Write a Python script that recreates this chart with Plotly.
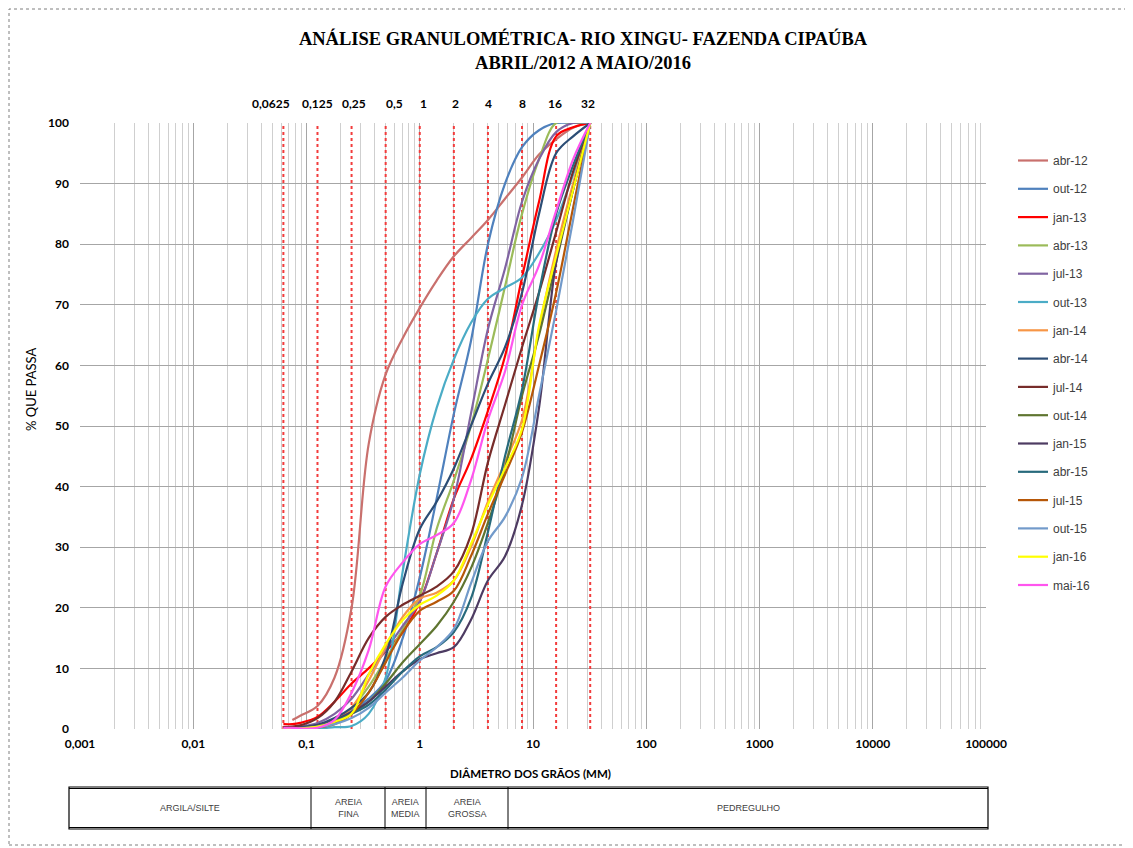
import math
import plotly.graph_objects as go

# ---------------- data ----------------
SIZES = [0.0625, 0.075, 0.088, 0.125, 0.177, 0.25, 0.354, 0.5, 0.707, 1, 1.41, 2, 2.83,
         4, 5.66, 8, 11.3, 16, 22.6, 32]

SERIES_NAMES = ["abr-12", "out-12", "jan-13", "abr-13", "jul-13", "out-13", "jan-14", "abr-14",
                "jul-14", "out-14", "jan-15", "abr-15", "jul-15", "out-15", "jan-16", "mai-16"]

abr_12 = [None, 1.5, 2.2, 3.8, 8.5, 20, 47, 58.5, 64.5, 69.5, 74, 78, 81, 84, 87.5, 91, 94.8, 97.3, 99.2, 100]
out_12 = [0.2, 0.2, 0.3, 0.5, 1.5, 3, 5, 8, 15, 25, 38, 52, 64, 80, 90, 96, 98.8, 100, 100, 100]
jan_13 = [0.8, 0.8, 1.0, 2.0, 4.5, 7.5, 10, 12.8, 16, 21, 29, 38, 44.5, 52.5, 61.5, 74.5, 87, 97.8, 99.3, 100]
abr_13 = [0.1, 0.1, 0.2, 0.6, 1.5, 3.5, 7, 11.5, 16.5, 22, 33, 41, 50, 61, 73, 85, 94, 100, 100, 100]
jul_13 = [0.2, 0.3, 0.4, 1, 2.5, 5, 9, 13, 17, 21, 29, 38, 52, 66, 76, 87, 94, 98.5, 100, 100]
out_13 = [0, 0, 0, 0.1, 0.3, 0.5, 2.5, 8.5, 26, 42, 53, 61, 67, 71, 72.8, 74.5, 78.5, 84, 91.5, 100]
jan_14 = [0, 0, 0.1, 0.4, 1.2, 3.5, 8, 13.5, 18.5, 21.5, 22.5, 24.5, 30, 37.5, 44, 51, 66, 79, 90, 100]
abr_14 = [0.2, 0.2, 0.3, 0.7, 1.8, 3.5, 6, 12, 24, 33, 37.5, 43, 50, 57, 63, 72, 85, 95, 97.8, 100]
jul_14 = [0.3, 0.4, 0.6, 1.8, 4.5, 9.5, 15, 18.5, 20.5, 22, 23.5, 26, 32, 44, 53.5, 63, 72, 82, 92, 100]
out_14 = [0, 0, 0.1, 0.4, 1, 2.5, 4.5, 7.5, 11, 14, 17, 21, 26.5, 34, 43, 55, 65, 77, 89, 100]
jan_15 = [0.1, 0.1, 0.2, 0.6, 1.5, 2.8, 4.5, 7, 9.5, 11.5, 12.5, 13.5, 18, 24.5, 28.5, 37, 53, 77, 89, 100]
abr_15 = [0.1, 0.1, 0.2, 0.5, 1.3, 2.5, 4, 6.5, 9.5, 12, 13.5, 16, 21.5, 32.5, 45, 56, 72, 85, 93, 100]
jul_15 = [0, 0, 0.1, 0.3, 0.8, 2.5, 6, 11, 16, 19.5, 21, 22.8, 28.5, 35.5, 42, 49, 60, 72, 86, 100]
out_15 = [0, 0, 0.1, 0.3, 0.8, 1.8, 3.5, 6, 8.5, 11.3, 13.5, 16.5, 24, 31, 35, 41.5, 55, 69, 84, 100]
jan_16 = [0, 0, 0.1, 0.4, 1.2, 2.5, 9, 14, 18, 20.5, 22, 24.5, 30.5, 37, 43, 49.5, 66.5, 78, 89, 100]
mai_16 = [0.2, 0.2, 0.1, 0.2, 1.5, 6, 13, 23.5, 27.5, 30.5, 32, 34, 41, 51, 59, 70, 76.5, 85.5, 94, 100]

SERIES_VALUES = [abr_12, out_12, jan_13, abr_13, jul_13, out_13, jan_14, abr_14,
                 jul_14, out_14, jan_15, abr_15, jul_15, out_15, jan_16, mai_16]

SERIES_COLORS = ["#C9706D", "#4F81BD", "#FF0000", "#9BBB59", "#8064A2", "#4BACC6", "#F79646", "#2C4D75",
                 "#772C2A", "#5F7530", "#4D3B62", "#276A7C", "#B65708", "#729ACA", "#FFFF00", "#FF55EE"]

WENTWORTH_SIZES = [0.0625, 0.125, 0.25, 0.5, 1, 2, 4, 8, 16, 32]
WENTWORTH_LABELS = ["0,0625", "0,125", "0,25", "0,5", "1", "2", "4", "8", "16", "32"]
# horizontal nudge (px) of each top label relative to its line
LABEL_SHIFT = [-12, 0, 2.5, 9, 4, 2, 1, 0.5, -1.5, -2]

X_TICKS = [0.001, 0.01, 0.1, 1, 10, 100, 1000, 10000, 100000]
X_TICK_LABELS = ["0,001", "0,01", "0,1", "1", "10", "100", "1000", "10000", "100000"]

CLASS_LABELS = ["ARGILA/SILTE", "AREIA<br>FINA", "AREIA<br>MEDIA", "AREIA<br>GROSSA", "PEDREGULHO"]

# ---------------- geometry (page pixels; the page body has an 8px margin) ----------------
OFF = 8
W, H = 1133 - OFF, 848 - OFF
L, R, T, B = 80, 986, 123, 729   # plot area in page pixels


def px(xp):
    return (xp - L) / (R - L)


def py(yp):
    return (B - yp) / (B - T)


fig = go.Figure()

# Wentworth boundary lines (red dotted)
for s in WENTWORTH_SIZES:
    fig.add_trace(go.Scatter(x=[s, s], y=[0, 100], mode="lines",
                             line=dict(color="#F23C3C", width=2, dash="dot"),
                             showlegend=False, hoverinfo="skip"))

# Granulometric curves
for name, vals, col in zip(SERIES_NAMES, SERIES_VALUES, SERIES_COLORS):
    fig.add_trace(go.Scatter(x=SIZES, y=vals, name=name, mode="lines",
                             line=dict(color=col, width=2.2, shape="spline", smoothing=1.0),
                             connectgaps=True, legendgroup=name))

minor_vals = [m * 10 ** e for e in range(-3, 5) for m in range(2, 10)]

fig.update_layout(
    width=W, height=H,
    margin=dict(l=L - OFF, r=W - (R - OFF), t=T - OFF, b=H - (B - OFF)),
    paper_bgcolor="white", plot_bgcolor="white",
    font=dict(family="Lato, Liberation Sans, sans-serif", color="#000000", size=12),
    title=dict(text="ANÁLISE GRANULOMÉTRICA- RIO XINGU- FAZENDA CIPAÚBA<br>ABRIL/2012 A MAIO/2016",
               x=(583 - OFF) / W, xanchor="center", y=1 - 37 / H, yanchor="middle",
               font=dict(family="Liberation Serif, serif", size=18.5, color="#000000", weight="bold")),
    xaxis=dict(type="log", range=[-3, 5], tickvals=X_TICKS, ticktext=X_TICK_LABELS,
               showgrid=True, gridcolor="#A6A6A6", gridwidth=1, zeroline=False, showline=False,
               ticks="", tickfont=dict(family="Lato, sans-serif", size=12, weight="bold"),
               ticklabelstandoff=6,
               minor=dict(tickvals=minor_vals, showgrid=True, gridcolor="#CFCFCF", gridwidth=1, ticks="")),
    yaxis=dict(range=[0, 100], dtick=10, showgrid=True, gridcolor="#A6A6A6", gridwidth=1,
               zeroline=False, showline=False, ticks="",
               tickfont=dict(family="Lato, sans-serif", size=12, weight="bold"), ticklabelstandoff=10),
    legend=dict(x=px(1013), xanchor="left", y=py(146), yanchor="top",
                font=dict(family="Liberation Sans, Arial, sans-serif", size=12, color="#404040"),
                tracegroupgap=9.3, itemwidth=30, bgcolor="rgba(0,0,0,0)"),
    showlegend=True,
)

annotations = []
# top labels of Wentworth boundaries
for s, lab, sh in zip(WENTWORTH_SIZES, WENTWORTH_LABELS, LABEL_SHIFT):
    annotations.append(dict(x=math.log10(s), xref="x", y=py(104), yref="paper", text=lab,
                            xshift=sh, showarrow=False, xanchor="center", yanchor="middle",
                            font=dict(family="Lato, sans-serif", size=12, weight="bold")))
# axis titles
annotations.append(dict(x=px(31), y=py(390), xref="paper", yref="paper", text="% QUE PASSA",
                        textangle=-90, showarrow=False, xanchor="center", yanchor="middle",
                        font=dict(family="Lato, sans-serif", size=13)))
annotations.append(dict(x=px(530), y=py(773), xref="paper", yref="paper", text="DIÂMETRO DOS GRÃOS (MM)",
                        showarrow=False, xanchor="center", yanchor="middle",
                        font=dict(family="Lato, sans-serif", size=11.5, weight="bold")))

# classification table
tbl_x = [69, 311, 385, 426, 508, 988]
tbl_top, tbl_bot = 787, 829
shapes = []
shapes.append(dict(type="rect", xref="paper", yref="paper", x0=px(tbl_x[0]), x1=px(tbl_x[-1]),
                   y0=py(tbl_bot), y1=py(tbl_top), line=dict(color="#000000", width=1.2)))
shapes.append(dict(type="line", xref="paper", yref="paper", x0=px(tbl_x[0]), x1=px(tbl_x[-1]),
                   y0=py(tbl_top + 1.5), y1=py(tbl_top + 1.5), line=dict(color="#000000", width=1)))
shapes.append(dict(type="line", xref="paper", yref="paper", x0=px(tbl_x[0]), x1=px(tbl_x[-1]),
                   y0=py(tbl_bot - 1.5), y1=py(tbl_bot - 1.5), line=dict(color="#000000", width=1)))
for xd in tbl_x[1:-1]:
    shapes.append(dict(type="line", xref="paper", yref="paper", x0=px(xd), x1=px(xd),
                       y0=py(tbl_bot), y1=py(tbl_top), line=dict(color="#000000", width=1)))
for j, lab in enumerate(CLASS_LABELS):
    cx = (tbl_x[j] + tbl_x[j + 1]) / 2
    annotations.append(dict(x=px(cx), y=py((tbl_top + tbl_bot) / 2), xref="paper", yref="paper",
                            text=lab, showarrow=False, xanchor="center", yanchor="middle",
                            font=dict(family="Liberation Sans Narrow, Liberation Sans, Arial, sans-serif",
                                      size=9, color="#404040")))

# outer dotted border
shapes.append(dict(type="rect", xref="paper", yref="paper", x0=px(9), x1=px(1128), y0=py(845), y1=py(9),
                   line=dict(color="#7F7F7F", width=1, dash="dot"), layer="below"))

fig.update_layout(annotations=annotations, shapes=shapes)

fig.write_html("out.html")
